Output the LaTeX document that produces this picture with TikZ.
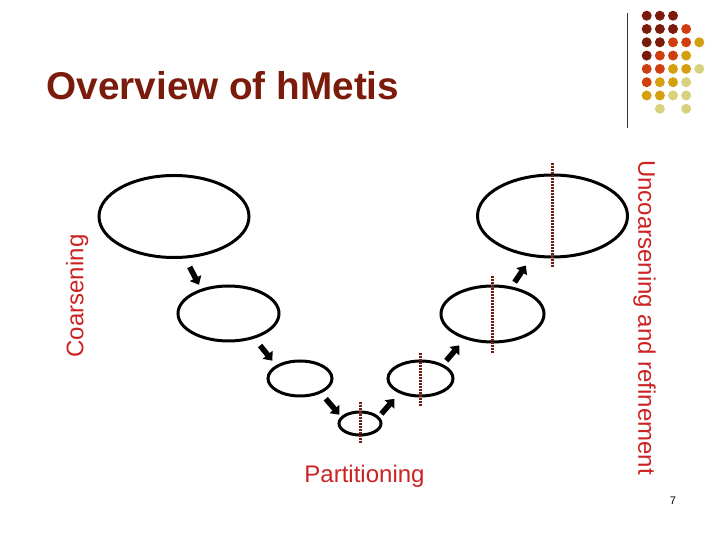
\documentclass[tikz,border=0pt]{standalone}
\usepackage{fontspec}
\setmainfont{Liberation Sans}
\usetikzlibrary{arrows.meta,shapes.geometric}
\definecolor{titlered}{HTML}{7B1B0B}
\definecolor{labelred}{HTML}{CC2222}
\definecolor{cutbrown}{HTML}{6E1E10}
\definecolor{dotD}{HTML}{7B1B0B}
\definecolor{dotO}{HTML}{CF3E0E}
\definecolor{dotG}{HTML}{D5A00F}
\definecolor{dotP}{HTML}{D8D27F}
\tikzset{
  graph/.style={draw, ellipse, line width=3pt, inner sep=0pt},
  blockarrow/.style={line width=5.5pt, -{Triangle[width=12.5pt,length=7.5pt]}},
  cut/.style={cutbrown, line width=3pt, dash pattern=on 1.5pt off 1.5pt},
  phase/.style={text=labelred, font=\fontsize{24}{28}\selectfont},
}
\begin{document}
\begin{tikzpicture}[x=1pt,y=1pt]
    \useasboundingbox (0,0) rectangle (720,540);

    % Title
    \node[anchor=base west, text=titlered, font=\bfseries\fontsize{38.7}{44}\selectfont] (title) at (43,440) {Overview of hMetis};

    % Corner decoration
    \draw[line width=1pt, black!80] (627,527) -- (627,412);
    \foreach \col/\row/\shade in {1/1/dotD, 2/1/dotD, 3/1/dotD,
        1/2/dotD, 2/2/dotD, 3/2/dotD, 4/2/dotO,
        1/3/dotD, 2/3/dotD, 3/3/dotO, 4/3/dotO, 5/3/dotG,
        1/4/dotD, 2/4/dotO, 3/4/dotO, 4/4/dotG,
        1/5/dotO, 2/5/dotO, 3/5/dotG, 4/5/dotG, 5/5/dotP,
        1/6/dotO, 2/6/dotG, 3/6/dotG, 4/6/dotP,
        1/7/dotG, 2/7/dotG, 3/7/dotP, 4/7/dotP,
        2/8/dotP, 4/8/dotP}
        \fill[\shade] ({633.55+13.15*\col},{537.6-13.3*\row}) circle (5pt);

    % Hypergraphs, coarse to fine
    \node[graph, minimum width=150pt, minimum height=82pt] (g1) at (174,323.5) {};
    \node[graph, minimum width=101pt, minimum height=55pt] (g2) at (228.5,226.5) {};
    \node[graph, minimum width=64pt, minimum height=35pt] (g3) at (300,161.5) {};
    \node[graph, minimum width=42pt, minimum height=23pt] (g4) at (360,116.5) {};
    \node[graph, minimum width=65pt, minimum height=35pt] (g5) at (420.5,161.5) {};
    \node[graph, minimum width=103pt, minimum height=56pt] (g6) at (492.5,226) {};
    \node[graph, minimum width=150pt, minimum height=82pt] (g7) at (552.5,324) {};

    % Phase arrows
    \draw[blockarrow, shorten <=9.5pt, shorten >=4.6pt] (g1.-75) -- (g2.138);
    \draw[blockarrow, shorten <=8.9pt, shorten >=5.9pt] (g2.-44) -- (g3.151);
    \draw[blockarrow, shorten <=7.2pt, shorten >=2.5pt] (g3.-35) -- (g4.160);
    \draw[blockarrow, shorten <=3.5pt, shorten >=7.3pt] (g4.20) -- (g5.-145);
    \draw[blockarrow, shorten <=4.9pt, shorten >=8.3pt] (g5.32) -- (g6.-138);
    \draw[blockarrow, shorten <=5.2pt, shorten >=10.4pt] (g6.55) -- (g7.-117);

    % Partition cuts
    \draw[cut] ([yshift=8pt]g4.north) -- ([yshift=-8pt]g4.south);
    \draw[cut] ([yshift=6pt]g5.north) -- ([yshift=-9pt]g5.south);
    \draw[cut] ([yshift=8pt]g6.north) -- ([yshift=-10pt]g6.south);
    \draw[cut] ([yshift=10pt]g7.north) -- ([yshift=-9pt]g7.south);

    % Labels
    \node[phase, anchor=base, rotate=90] (coarse) at (83.3,244) {Coarsening};
    \node[phase, anchor=base, rotate=-90] (uncoarse) at (638.3,222.5) {Uncoarsening and refinement};
    \node[phase, anchor=base] (part) at (364.5,57) {Partitioning};
    \node[font=\fontsize{11}{13}\selectfont, anchor=base] (page) at (673,35) {7};
\end{tikzpicture}
\end{document}
